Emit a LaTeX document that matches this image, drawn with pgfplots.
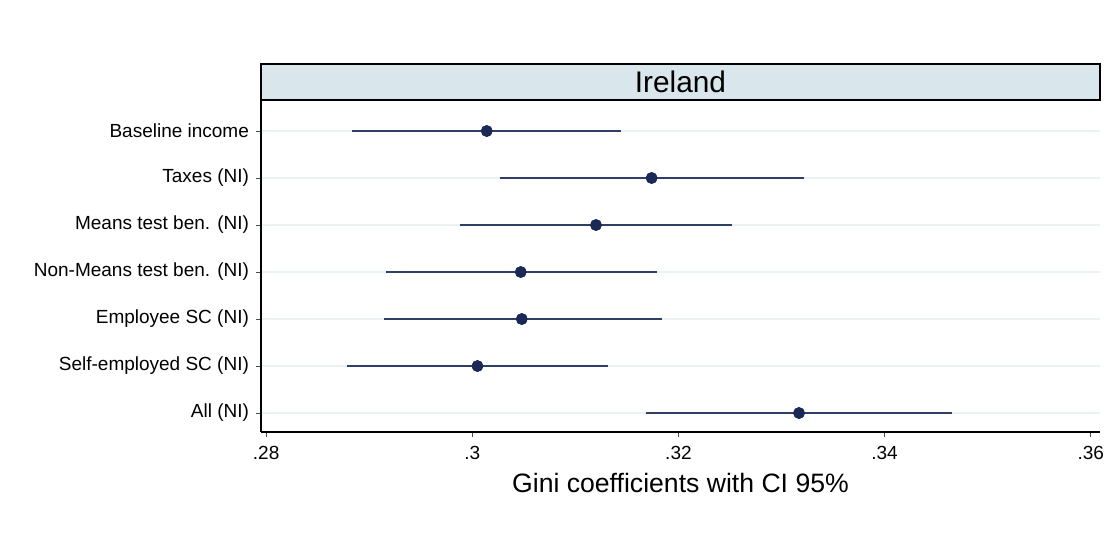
\documentclass[border=0pt]{standalone}
\usepackage{fontspec}
\setmainfont{Liberation Sans}
\usepackage{pgfplots}
\usepackage{pgfplotstable}
\pgfplotsset{compat=1.18}

\definecolor{hdrfill}{RGB}{217,230,235}
\definecolor{gridc}{RGB}{234,242,243}
\definecolor{dotc}{RGB}{26,41,85}
\definecolor{cic}{RGB}{47,62,102}

% row, estimate, lower, upper
\pgfplotstableread{
row est lo hi
1 0.3014 0.2883 0.3144
2 0.3174 0.3027 0.3322
3 0.3120 0.2988 0.3252
4 0.3047 0.2916 0.3179
5 0.3048 0.2914 0.3184
6 0.3005 0.2878 0.3132
7 0.3317 0.3169 0.3465
}\gini

\begin{document}
\begin{tikzpicture}
\begin{axis}[
    scale only axis,
    width=419.5pt, height=166pt,
    xmin=0.2795, xmax=0.3609,
    ymin=0.34, ymax=7.404,
    y dir=reverse,
    axis x line*=bottom, axis y line*=left,
    axis line style={black, line width=0.6pt},
    tick align=outside, major tick length=2.5pt,
    tick style={black!70, line width=0.5pt},
    xtick={0.28,0.30,0.32,0.34,0.36},
    xticklabels={.28,.3,.32,.34,.36},
    ytick={1,...,7},
    yticklabels={Baseline income, Taxes (NI), Means test ben. (NI),
        Non-Means test ben. (NI), Employee SC (NI),
        Self-employed SC (NI), All (NI)},
    ticklabel style={font=\fontsize{9.5}{11}\selectfont},
    xticklabel style={yshift=-1pt},
    ymajorgrids, grid style={gridc, line width=1pt},
    xlabel={Gini coefficients with CI 95\%},
    xlabel style={font=\fontsize{13.3}{15}\selectfont,
        at={(axis description cs:0.5,0)}, anchor=center, yshift=-25.5pt},
    clip=false,
]
\addplot[only marks, mark=*, mark size=2.7pt, color=dotc,
    error bars/.cd, x dir=both, x explicit, error mark=none,
    error bar style={cic, line width=1pt}]
    table[x=est, y=row,
          x error plus expr=\thisrow{hi}-\thisrow{est},
          x error minus expr=\thisrow{est}-\thisrow{lo}] {\gini};
% redraw dots on top of the bars
\addplot[only marks, mark=*, mark size=2.7pt, color=dotc]
    table[x=est, y=row] {\gini};
\end{axis}
\draw[fill=hdrfill, line width=0.6pt] (current axis.north west)
    rectangle ([yshift=18pt]current axis.north east);
\node[font=\fontsize{14.9}{17}\selectfont]
    at ([yshift=9pt]current axis.north) {Ireland};
\pgfresetboundingbox
\path[use as bounding box] ([xshift=-130.5pt,yshift=50pt]current axis.north west)
    rectangle ([xshift=2.5pt,yshift=-63pt]current axis.south east);
\end{tikzpicture}
\end{document}
